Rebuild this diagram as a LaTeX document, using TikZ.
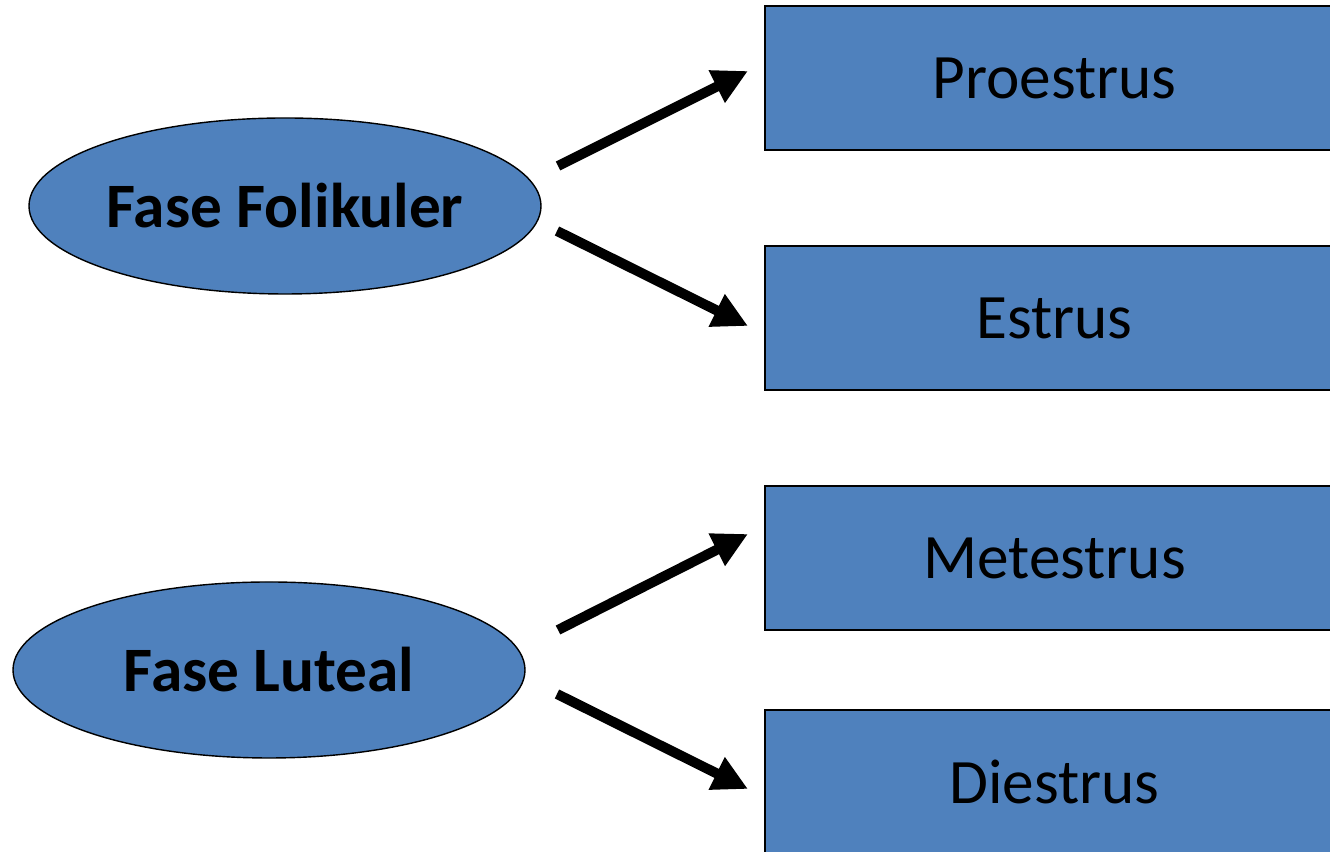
\documentclass[tikz,border=0pt]{standalone}
\usepackage{fontspec}
\setmainfont{Carlito}
\usetikzlibrary{arrows.meta,shapes.geometric,positioning}
\definecolor{officeblue}{HTML}{4F81BD}

\begin{document}
\begin{tikzpicture}[
    phase/.style={ellipse,draw=black,line width=0.8pt,fill=officeblue,inner sep=0,
      minimum width=10.24cm,minimum height=3.52cm,font=\fontsize{36}{43}\selectfont\bfseries},
    stage/.style={rectangle,draw=black,line width=0.8pt,fill=officeblue,inner sep=0,
      minimum width=11.58cm,minimum height=2.88cm,font=\fontsize{36}{43}\selectfont},
    bigarrow/.style={line width=2mm,-{Triangle[length=7mm,width=6.8mm]}}]
  \useasboundingbox (0,0) rectangle (26.6,17.04);
  % draw phases
  \node[phase] (folikuler) at (5.7,12.92) {Fase Folikuler};
  \node[phase] (luteal)    at (5.38,3.64) {Fase Luteal};
  % draw stages
  \node[stage] (proestrus) at (21.09,15.48) {Proestrus};
  \node[stage] (estrus)    at (21.09,10.68) {Estrus};
  \node[stage] (metestrus) at (21.09,5.88)  {Metestrus};
  \node[stage] (diestrus)  at (21.09,1.4)   {Diestrus};
  % arrow ends
  \coordinate (fol-up)   at (11.16,13.72);
  \coordinate (fol-down) at (11.14,12.42);
  \coordinate (lut-up)   at (11.16,4.44);
  \coordinate (lut-down) at (11.14,3.16);
  \coordinate (to-pro)   at (14.96,15.62);
  \coordinate (to-est)   at (14.96,10.52);
  \coordinate (to-met)   at (14.96,6.36);
  \coordinate (to-die)   at (14.96,1.26);
  % draw arrows
  \draw[bigarrow] (fol-up) -- (to-pro);
  \draw[bigarrow] (fol-down) -- (to-est);
  \draw[bigarrow] (lut-up) -- (to-met);
  \draw[bigarrow] (lut-down) -- (to-die);
\end{tikzpicture}
\end{document}
